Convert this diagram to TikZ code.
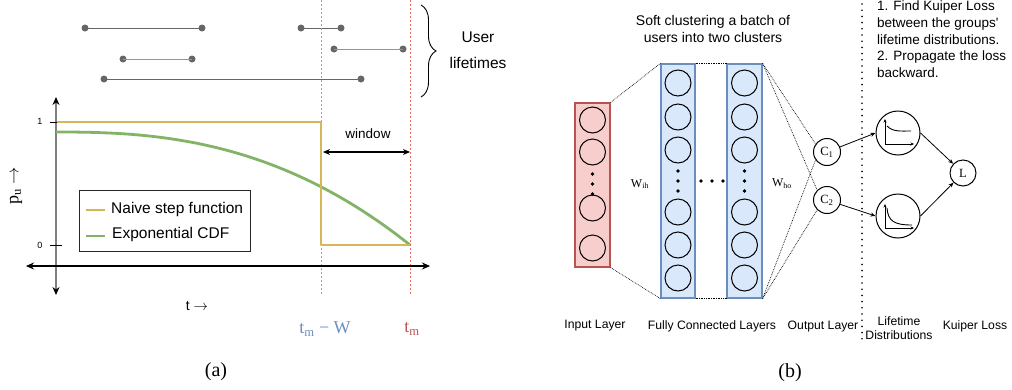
\documentclass[tikz,border=0pt]{standalone}
\usepackage{fontspec}
\setmainfont{Liberation Serif}
\newfontfamily\arialf{Liberation Sans}
\usetikzlibrary{arrows.meta,decorations.pathreplacing}
\definecolor{yel}{HTML}{D6B656}
\definecolor{grn}{HTML}{82B366}
\definecolor{bfill}{HTML}{DAE8FC}
\definecolor{bstroke}{HTML}{6C8EBF}
\definecolor{rfill}{HTML}{F8CECC}
\definecolor{rstroke}{HTML}{B85450}
\definecolor{bline}{HTML}{7EA6E0}
\definecolor{rline}{HTML}{EA6B66}
\definecolor{lifeg}{HTML}{666666}
\definecolor{tblue}{HTML}{6C8EBF}
\definecolor{tred}{HTML}{B85450}
\newcommand{\fsz}[2]{\fontsize{#1}{#2}\selectfont}
\begin{document}
\begin{tikzpicture}[x=1pt,y=-1pt,
  sanslbl/.style={font=\arialf\fsz{12.2}{13.5}},
  neuron/.style={circle,draw,line width=1pt,minimum size=26pt,inner sep=0pt},
  cnode/.style={circle,draw,line width=1pt,minimum size=27pt,inner sep=0pt,font=\fsz{12.5}{14}},
  dnode/.style={circle,draw,line width=1pt,minimum size=44pt,inner sep=0pt},
  conn/.style={densely dotted,line width=0.7pt},
  dotend/.style={circle,fill=lifeg,inner sep=0pt,minimum size=7pt},
  ar/.style={-{Stealth[length=5pt,width=4pt]},line width=0.8pt},
  arsm/.style={-{Stealth[length=3.5pt,width=3pt]},line width=0.8pt},
  bigar/.style={{Stealth[length=8pt,width=7pt]}-{Stealth[length=8pt,width=7pt]},line width=1.3pt},
  smalldot/.style={circle,fill=black,inner sep=0pt,minimum size=3.8pt},
  layerbox/.style={draw=bstroke,fill=bfill,line width=1.2pt,inner sep=0pt,minimum width=34pt,minimum height=234pt},
]
\useasboundingbox (0,0) rectangle (1012,389);

% ---------------- panel (a) ----------------
% user lifetimes
\foreach \n/\xa/\xb/\yy/\c in {1/85/202/28/lifeg,2/301/341/28/lifeg,3/334/403/49/lifeg!70,4/123/192/59/lifeg!70,5/104/361/79/lifeg}{
  \node[dotend] (s\n a) at (\xa,\yy) {};
  \node[dotend] (s\n b) at (\xb,\yy) {};
  \draw[line width=1pt,\c] (s\n a.center) -- (s\n b.center);
}
\draw[line width=0.9pt,decorate,decoration={brace,amplitude=15pt}] (421,5) -- (421,97);
\node[font=\arialf\fsz{15.5}{26},align=center] (ulife) at (478,50) {User\\lifetimes};

% dotted guide lines
\coordinate (bl1) at (321,0); \coordinate (bl2) at (321,296);
\coordinate (rl1) at (410,0); \coordinate (rl2) at (410,296);
\draw[bline,line width=1pt,dash pattern=on 1.5pt off 2.5pt] (bl1) -- (bl2);
\draw[rline,line width=1pt,dash pattern=on 1.5pt off 2.5pt] (rl1) -- (rl2);

% axes
\coordinate (ya) at (56,97); \coordinate (yb) at (56,295);
\draw[line width=2pt,gray,{Stealth[black,length=8pt,width=7pt]}-{Stealth[black,length=8pt,width=7pt]}] (yb) -- (ya);
\coordinate (xa) at (26,266); \coordinate (xb) at (430,266);
\draw[bigar] (xa) -- (xb);
\draw[line width=1pt] (50,122) -- (66,122);
\draw[line width=1pt] (50,245) -- (62,245);
\node[font=\arialf\fsz{9}{10}] (t1) at (40,121) {1};
\node[font=\arialf\fsz{9}{10}] (t0) at (40,245) {0};

% curves
\draw[grn,line width=2.8pt] plot[domain=0:354,samples=70] ({56+\x},{132+113*(\x/354)^2.5});
\draw[yel,line width=2.6pt,line join=round] (57,122) -- (321,122) -- (321,245) -- (410,245);

% window
\coordinate (wa) at (323,152); \coordinate (wb) at (410,152);
\draw[{Stealth[length=7pt,width=6pt]}-{Stealth[length=7pt,width=6pt]},line width=1.1pt] (wa) -- (wb);
\node[font=\arialf\fsz{13.5}{15}] (win) at (368,134) {window};

% legend
\node[draw=black!85,line width=1pt,minimum width=171pt,minimum height=61pt,inner sep=0pt] (leg) at (164.5,220.5) {};
\draw[yel,line width=2.8pt] (86,210) -- (105,210);
\draw[grn,line width=2.8pt] (86,236) -- (105,236);
\node[anchor=west,font=\arialf\fsz{15.5}{17},inner sep=0pt] (l1) at (111,209) {Naive step function};
\node[anchor=west,font=\arialf\fsz{15.5}{17},inner sep=0pt] (l2) at (112,234) {Exponential CDF};

% axis labels
\node[rotate=90,font=\fsz{18}{20}] (pu) at (16,186) {p\textsubscript{u} $\rightarrow$};
\node[font=\arialf\fsz{14}{16}] (tl) at (197,306) {t $\rightarrow$};
\node[font=\fsz{18}{20},text=tblue] (tmw) at (325,329) {t\textsubscript{m} − W};
\node[font=\fsz{18}{20},text=tred] (tm) at (412,329) {t\textsubscript{m}};
\node[font=\fsz{20}{22}] (capa) at (216,372) {(a)};

% ---------------- panel (b) ----------------
\node[font=\arialf\fsz{14}{17.5},align=center] (title) at (713,29) {Soft clustering a batch of\\users into two clusters};

\node[draw=rstroke,fill=rfill,line width=1.2pt,inner sep=0pt,minimum width=35pt,minimum height=164pt] (inl) at (592.5,185) {};
\node[layerbox] (h1) at (678,181) {};
\node[layerbox,minimum width=35pt] (h2) at (744.5,181) {};

\foreach \y [count=\i] in {120,152,208,248}{ \node[neuron] (i\i) at (592.5,\y) {}; }
\foreach \y [count=\i] in {174,184,194}{ \node[smalldot] (id\i) at (592.5,\y) {}; }
\foreach \y [count=\i] in {83,117,150,212,245,278}{
  \node[neuron] (ha\i) at (678,\y) {};
  \node[neuron] (hb\i) at (744.5,\y) {};
}
\foreach \y [count=\i] in {171,181,191}{
  \node[smalldot] (had\i) at (678,\y) {};
  \node[smalldot] (hbd\i) at (744.5,\y) {};
}
\foreach \x [count=\i] in {701,712,723}{ \node[smalldot] (hd\i) at (\x,181) {}; }

\node[font=\fsz{12}{14}] (wih) at (640,184) {W\textsubscript{ih}};
\node[font=\fsz{12}{14}] (who) at (782,184) {W\textsubscript{ho}};

\node[cnode] (c1) at (827,152) {C\textsubscript{1}};
\node[cnode] (c2) at (827,200) {C\textsubscript{2}};

\draw[conn] (inl.north east) -- (h1.north west);
\draw[conn] (inl.south east) -- (h1.south west);
\draw[conn] (h1.north east) -- (h2.north west);
\draw[conn] (h1.south east) -- (h2.south west);
\draw[conn] (h2.north east) -- (c1.145);
\draw[conn] (h2.north east) -- (c2.135);
\draw[conn] (h2.south east) -- (c2.225);
\draw[conn] (h2.south east) -- (c1.215);

% separator
\coordinate (sep1) at (862,4); \coordinate (sep2) at (862,341);
\draw[line width=1.8pt,line cap=round,dash pattern=on 0pt off 6.2pt] (sep1) -- (sep2);

\node[dnode] (d1) at (898,133) {};
\node[dnode] (d2) at (898,216) {};
\node[cnode,minimum size=26pt] (L) at (963,173) {L};

\draw[ar] (c1) -- (d1.west);
\draw[ar] (c2) -- (d2.west);
\draw[ar] (d1.east) -- (L);
\draw[ar] (d2.east) -- (L);

% distribution icons
\draw[arsm] (885,144) -- (885,119);
\draw[arsm] (885,144) -- (914,144);
\draw[line width=0.9pt] (887,126) .. controls (893,132) and (900,131) .. (911,131);
\draw[arsm] (885,228) -- (885,204);
\draw[arsm] (885,228) -- (914,228);
\draw[line width=0.9pt] (887,208) .. controls (888,221) and (894,225) .. (912,225);

\node[anchor=north west,font=\arialf\fsz{13.5}{16.6},align=left,inner sep=0pt] (kt) at (877,1) {1. Find Kuiper Loss\\between the groups'\\lifetime distributions.\\2. Propagate the loss\\backward.};

\node[sanslbl] (lb1) at (595,326) {Input Layer};
\node[sanslbl] (lb2) at (712,326) {Fully Connected Layers};
\node[sanslbl] (lb3) at (823,326) {Output Layer};
\node[sanslbl,align=center] (lb4) at (899,328) {Lifetime\\Distributions};
\node[sanslbl] (lb5) at (975,326) {Kuiper Loss};
\node[font=\fsz{20}{22}] (capb) at (790,373) {(b)};
\end{tikzpicture}
\end{document}
